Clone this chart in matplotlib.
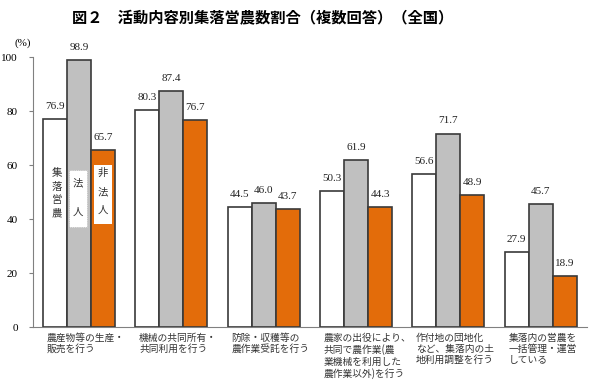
import matplotlib
matplotlib.use("Agg")
import matplotlib.pyplot as plt
import numpy as np
from matplotlib.patches import Rectangle

plt.rcParams['font.family'] = ['Noto Sans CJK JP', 'DejaVu Sans']

categories = ["農産物等の生産・\n販売を行う",
              "機械の共同所有・\n共同利用を行う",
              "防除・収穫等の\n農作業受託を行う",
              "農家の出役により、\n共同で農作業(農\n業機械を利用した\n農作業以外)を行う",
              "作付地の団地化\nなど、集落内の土\n地利用調整を行う",
              "集落内の営農を\n一括管理・運営\nしている"]
series_names = ["集落営農", "法人", "非法人"]
v_all = [76.9, 80.3, 44.5, 50.3, 56.6, 27.9]
v_corp = [98.9, 87.4, 46.0, 61.9, 71.7, 45.7]
v_noncorp = [65.7, 76.7, 43.7, 44.3, 48.9, 18.9]
yticks = [0, 20, 40, 60, 80, 100]

colors = ["#FFFFFF", "#C0C0C0", "#E36C0A"]
fig = plt.figure(figsize=(6, 3.81), dpi=100)
ax = fig.add_axes([0.055, 0.1417, 0.923, 0.7083])

x = np.arange(len(categories))
w = 0.26
serif = "Liberation Serif"
for i, (vals, c) in enumerate(zip([v_all, v_corp, v_noncorp], colors)):
    pos = x + (i - 1) * w
    ax.bar(pos, vals, w, color=c, edgecolor="#3a3a3a", linewidth=1.2, zorder=3)
    for p, v in zip(pos, vals):
        ax.text(p, v + 3, f"{v:.1f}", ha="center", va="bottom", fontsize=8,
                family=serif, color="#222222")

ax.set_xlim(-0.5, 5.5)
ax.set_ylim(0, 100)
ax.set_yticks(yticks)
ax.set_yticklabels([str(t) for t in yticks], family=serif, fontsize=8)
ax.set_xticks([])
for s in ["top", "right"]:
    ax.spines[s].set_visible(False)
ax.spines["left"].set_color("#808080")
ax.spines["bottom"].set_color("#808080")
ax.tick_params(axis="y", length=3, color="#808080", pad=8)

# in-bar series labels
def vtext(xc, ys, chars):
    for yy, ch in zip(ys, chars):
        ax.text(xc, yy, ch, ha="center", va="center", fontsize=7.5,
                color="#333333", zorder=5)

vtext(x[0] - w + 0.02, [57.0, 51.9, 47.0, 42.2], series_names[0])
ax.add_patch(Rectangle((x[0] - 0.105, 37.0), 0.19, 21.1, facecolor="white",
                       edgecolor="#aaaaaa", linewidth=0.5, linestyle=":", zorder=4))
vtext(x[0] - 0.01, [53.3, 42.6], series_names[1])
ax.add_patch(Rectangle((x[0] + w - 0.095, 38.1), 0.19, 21.9, facecolor="white",
                       edgecolor="none", zorder=4))
vtext(x[0] + w, [57.0, 49.8, 43.3], series_names[2])

# category labels
for xi, lab in zip(x, categories):
    ax.text(xi - 1.5 * w + 0.04, -2.2, lab, ha="left", va="top", fontsize=7,
            linespacing=1.15, color="#333333")

fig.text(0.038, 0.887, "(%)", ha="center", va="center", fontsize=8, family=serif)
fig.text(0.437, 0.953, "図２　活動内容別集落営農数割合（複数回答）（全国）", ha="center",
         va="center", fontsize=11, fontweight="bold")

fig.savefig("out.png", dpi=100)
